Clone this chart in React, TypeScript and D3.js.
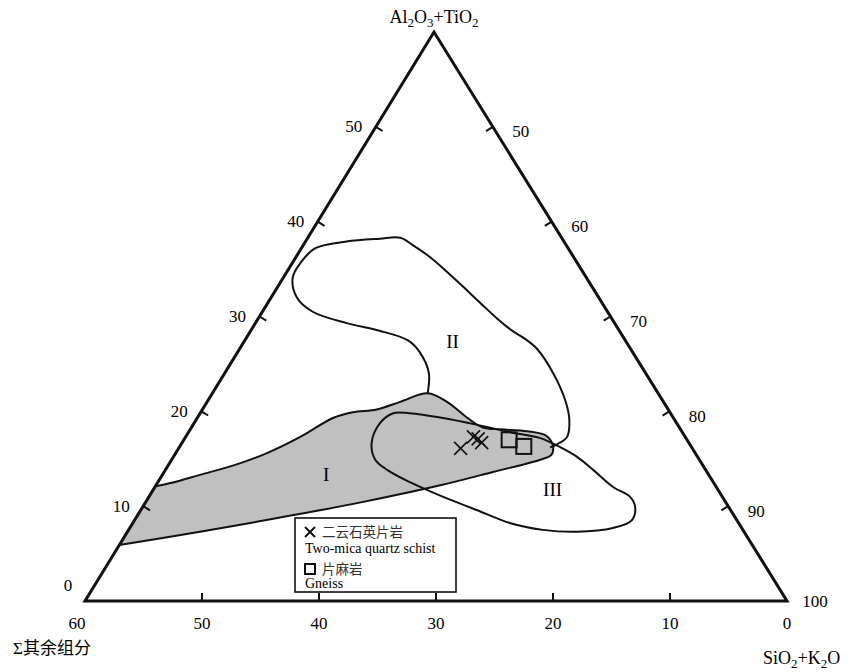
import React from "react";
import * as d3 from "d3";

// partial ternary: Al2O3+TiO2 0-60 (left), SiO2+K2O 40-100 (right), Σ其余组分 0-60 (bottom)
const alDomain = [0, 60];
const otherDomain = [0, 60];

const leftTicks = [0, 10, 20, 30, 40, 50];
const rightTicks = [50, 60, 70, 80, 90, 100];
const bottomTicks = [60, 50, 40, 30, 20, 10, 0];

// field outlines, each point = [Al2O3+TiO2, Σ其余组分] (SiO2+K2O is the rest)
const fieldI = [
  [12.1, 47.9], [12.5, 46.2], [13.3, 43.5], [14.3, 40.1], [15.6, 36.6],
  [17.3, 32.9], [19.3, 29.1], [19.9, 27.1], [20.2, 24.9], [21.0, 22.5],
  [21.9, 19.7], [21.0, 18.5], [19.3, 17.6], [18.3, 16.8], [18.1, 15.4],
  [17.9, 13.2], [17.4, 11.8], [16.3, 11.8], [15.4, 12.4], [14.9, 13.6],
  [13.6, 18.3], [12.2, 23.5], [10.4, 31.2], [8.8, 38.9], [7.3, 46.5],
  [5.9, 54.1],
];

const fieldII = [
  [21.9, 19.7], [24.1, 18.5], [26.3, 18.2], [27.5, 18.6], [28.5, 20.5],
  [29.3, 22.9], [30.5, 25.2], [32.0, 25.8], [34.1, 25.1], [35.7, 23.6],
  [37.2, 21.6], [37.9, 18.6], [38.2, 15.6], [38.3, 13.8], [37.5, 13.1],
  [36.3, 12.3], [34.7, 11.6], [33.1, 11.0], [31.4, 10.4], [29.8, 9.8],
  [28.4, 9.1], [27.8, 8.6], [26.6, 8.0], [24.1, 7.9], [21.2, 8.3],
  [19.1, 9.0], [17.3, 10.1], [16.5, 11.4], [16.2, 12.1],
];

const fieldIII = [
  [16.7, 27.1], [18.8, 25.3], [19.8, 23.7], [19.8, 22.3], [19.3, 19.7],
  [18.6, 17.2], [17.8, 14.7], [17.2, 12.5], [16.2, 11.2], [15.2, 10.3],
  [13.8, 9.6], [12.0, 8.8], [11.0, 7.9], [9.9, 8.0], [8.5, 9.0],
  [7.7, 11.0], [7.3, 14.3], [7.5, 17.1], [8.2, 19.5], [9.6, 21.7],
  [11.0, 23.9], [12.5, 25.9], [13.8, 27.2], [14.9, 27.7],
];

const fieldNames = ["I", "II", "III"];
const fieldLabelAl = [13.3, 27.4, 11.8];
const fieldLabelOther = [32.7, 14.8, 14.1];

// samples
const schistAl = [16.1, 17.3, 17.1, 16.7];
const schistOther = [19.8, 18.1, 17.8, 17.7];
const gneissAl = [17.0, 16.3];
const gneissOther = [15.2, 14.3];

const W = 848;
const H = 672;
const apex = [434, 32];
const cornerL = [85, 601];
const cornerR = [787, 601];

const serif = "'Liberation Serif', 'Times New Roman', serif";
const cjk = "'Noto Sans CJK SC', sans-serif";

const aScale = d3.scaleLinear().domain(alDomain).range([0, 1]);
const oScale = d3.scaleLinear().domain(otherDomain).range([0, 1]);

function project(al: number, other: number): [number, number] {
  const a = aScale(al);
  const o = oScale(other);
  const r = 1 - a - o;
  return [
    apex[0] * a + cornerL[0] * o + cornerR[0] * r,
    apex[1] * a + cornerL[1] * o + cornerR[1] * r,
  ];
}

const centroid = [
  (apex[0] + cornerL[0] + cornerR[0]) / 3,
  (apex[1] + cornerL[1] + cornerR[1]) / 3,
];

function inward(p: number[], q: number[]) {
  const dx = q[0] - p[0];
  const dy = q[1] - p[1];
  const len = Math.hypot(dx, dy);
  let nx = -dy / len;
  let ny = dx / len;
  const mx = (p[0] + q[0]) / 2;
  const my = (p[1] + q[1]) / 2;
  if ((centroid[0] - mx) * nx + (centroid[1] - my) * ny < 0) {
    nx = -nx;
    ny = -ny;
  }
  return [nx, ny];
}

const openCurve = d3
  .line<number[]>()
  .x((d) => project(d[0], d[1])[0])
  .y((d) => project(d[0], d[1])[1])
  .curve(d3.curveCatmullRom.alpha(0.5));

const closedCurve = d3
  .line<number[]>()
  .x((d) => project(d[0], d[1])[0])
  .y((d) => project(d[0], d[1])[1])
  .curve(d3.curveCatmullRomClosed.alpha(0.5));

const TICK = 8;

function Sub({ children }: { children: string }) {
  return (
    <tspan dy={4} fontSize="0.72em">
      {children}
    </tspan>
  );
}

export default function App() {
  const nLeft = inward(cornerL, apex);
  const nRight = inward(apex, cornerR);
  const nBottom = inward(cornerL, cornerR);

  const leftPts = leftTicks.map((v) => ({ v, p: project(v, 60 - v) }));
  const rightPts = rightTicks.map((v) => ({ v, p: project(100 - v, 0) }));
  const bottomPts = bottomTicks.map((v) => ({ v, p: project(0, v) }));

  return (
    <svg
      width={W}
      height={H}
      style={{ position: "absolute", left: 0, top: 0, background: "#fff" }}
      fontFamily={serif}
    >
      <rect width={W} height={H} fill="#fff" />

      {/* fields */}
      <path
        d={openCurve(fieldI) + "Z"}
        fill="#c0c0c0"
        stroke="#111"
        strokeWidth={2}
        strokeLinejoin="round"
      />
      <path d={closedCurve(fieldIII) || ""} fill="none" stroke="#111" strokeWidth={2} />
      <path d={openCurve(fieldII) || ""} fill="none" stroke="#111" strokeWidth={2} />

      {fieldNames.map((name, i) => {
        const [x, y] = project(fieldLabelAl[i], fieldLabelOther[i]);
        return (
          <text key={name} x={x} y={y} textAnchor="middle" dominantBaseline="central" fontSize={19}>
            {name}
          </text>
        );
      })}

      {/* samples */}
      {schistAl.map((al, i) => {
        const [x, y] = project(al, schistOther[i]);
        const s = 6.5;
        return (
          <g key={"x" + i} stroke="#111" strokeWidth={1.6}>
            <line x1={x - s} y1={y - s} x2={x + s} y2={y + s} />
            <line x1={x - s} y1={y + s} x2={x + s} y2={y - s} />
          </g>
        );
      })}
      {gneissAl.map((al, i) => {
        const [x, y] = project(al, gneissOther[i]);
        return (
          <rect
            key={"g" + i}
            x={x - 7.5}
            y={y - 7.5}
            width={15}
            height={15}
            fill="none"
            stroke="#111"
            strokeWidth={2}
          />
        );
      })}

      {/* triangle */}
      <polygon
        points={[apex, cornerL, cornerR].map((p) => p.join(",")).join(" ")}
        fill="none"
        stroke="#111"
        strokeWidth={3}
        strokeLinejoin="miter"
      />

      {/* ticks */}
      {leftPts
        .filter((d) => d.v > 0 && d.v < 60)
        .map((d) => (
          <line
            key={"lt" + d.v}
            x1={d.p[0]}
            y1={d.p[1]}
            x2={d.p[0] + nLeft[0] * TICK}
            y2={d.p[1] + nLeft[1] * TICK}
            stroke="#111"
            strokeWidth={2}
          />
        ))}
      {rightPts
        .filter((d) => d.v > 40 && d.v < 100)
        .map((d) => (
          <line
            key={"rt" + d.v}
            x1={d.p[0]}
            y1={d.p[1]}
            x2={d.p[0] + nRight[0] * TICK}
            y2={d.p[1] + nRight[1] * TICK}
            stroke="#111"
            strokeWidth={2}
          />
        ))}
      {bottomPts
        .filter((d) => d.v > 0 && d.v < 60)
        .map((d) => (
          <line
            key={"bt" + d.v}
            x1={d.p[0]}
            y1={d.p[1]}
            x2={d.p[0] + nBottom[0] * TICK}
            y2={d.p[1] + nBottom[1] * TICK}
            stroke="#111"
            strokeWidth={2}
          />
        ))}

      {/* tick labels */}
      {leftPts.map((d) => (
        <text
          key={"ll" + d.v}
          x={d.p[0] + (d.v === 0 ? -17 : -22)}
          y={d.p[1] + (d.v === 0 ? -16 : 0)}
          textAnchor="middle"
          dominantBaseline="central"
          fontSize={17}
        >
          {d.v}
        </text>
      ))}
      {rightPts.map((d) => (
        <text
          key={"rl" + d.v}
          x={d.p[0] + 28}
          y={d.p[1] + (d.v === 100 ? 0 : 5)}
          textAnchor="middle"
          dominantBaseline="central"
          fontSize={17}
        >
          {d.v}
        </text>
      ))}
      {bottomPts.map((d) => (
        <text
          key={"bl" + d.v}
          x={d.p[0] + (d.v === 60 ? -8 : 0)}
          y={d.p[1] + 22}
          textAnchor="middle"
          dominantBaseline="central"
          fontSize={17}
        >
          {d.v}
        </text>
      ))}

      {/* axis titles */}
      <text x={apex[0]} y={23} textAnchor="middle" fontSize={18}>
        Al<Sub>2</Sub>
        <tspan dy={-4}>O</tspan>
        <Sub>3</Sub>
        <tspan dy={-4}>+TiO</tspan>
        <Sub>2</Sub>
      </text>
      <text x={763} y={664} fontSize={18}>
        SiO<Sub>2</Sub>
        <tspan dy={-4}>+K</tspan>
        <Sub>2</Sub>
        <tspan dy={-4}>O</tspan>
      </text>
      <text x={13} y={654} fontSize={17}>
        Σ<tspan fontFamily={cjk}>其余组分</tspan>
      </text>

      {/* legend */}
      <g>
        <rect x={295} y={518} width={161} height={74} fill="#fff" stroke="#111" strokeWidth={1.6} />
        <g stroke="#111" strokeWidth={2}>
          <line x1={305} y1={527} x2={315} y2={537} />
          <line x1={305} y1={537} x2={315} y2={527} />
        </g>
        <text x={322} y={536.5} fontSize={13.5} fontFamily={cjk} fill="#333">
          二云石英片岩
        </text>
        <text x={305} y={553} fontSize={14}>
          Two-mica quartz schist
        </text>
        <rect x={305} y={564} width={10} height={10} fill="none" stroke="#111" strokeWidth={2} />
        <text x={322} y={573.5} fontSize={13.5} fontFamily={cjk} fill="#333">
          片麻岩
        </text>
        <text x={305} y={588} fontSize={14}>
          Gneiss
        </text>
      </g>
    </svg>
  );
}
